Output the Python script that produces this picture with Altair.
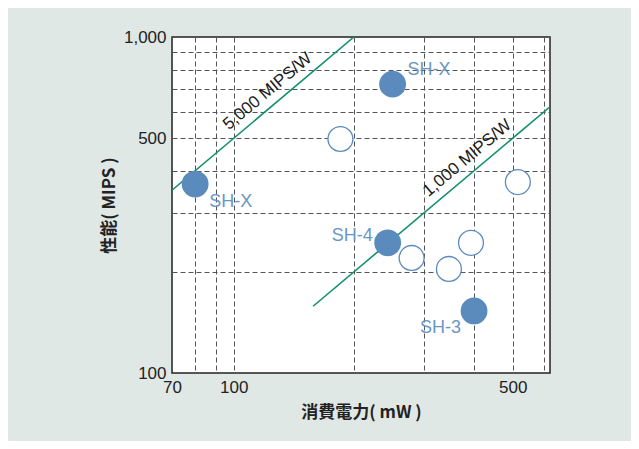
import altair as alt
import pandas as pd

# ---- data ----
filled_names = ["SH-X", "SH-X", "SH-4", "SH-3"]
filled_power = [80, 250, 243, 400]      # mW
filled_perf = [365, 724, 244, 153]      # MIPS

open_power = [185, 515, 279, 346, 393]
open_perf = [497, 370, 220, 204, 244]

rate_labels = ["5,000 MIPS/W", "1,000 MIPS/W"]
rates = [5000, 1000]                    # MIPS/W
rate_x_from = [70, 158]
rate_x_to = [200, 620]
rate_label_x = [128, 405]

x_grid = [70, 80, 90, 100, 200, 300, 400, 500, 600]
x_labels = [70, 100, 500]
y_grid = [100, 200, 300, 400, 500, 600, 700, 800, 900, 1000]
y_labels = [100, 500, 1000]

BLUE = "#5b8bbd"
GREEN = "#14906f"
FONT = "Liberation Sans"
CJK = "Noto Sans CJK JP"

filled = pd.DataFrame({"power": filled_power, "perf": filled_perf, "name": filled_names})
opened = pd.DataFrame({"power": open_power, "perf": open_perf})

lines_rows = []
for lab, r, a, b in zip(rate_labels, rates, rate_x_from, rate_x_to):
    for xv in (a, b):
        lines_rows.append({"label": lab, "power": xv, "perf": r / 1000 * xv})
lines = pd.DataFrame(lines_rows)
line_labels = pd.DataFrame({
    "label": rate_labels,
    "power": rate_label_x,
    "perf": [r / 1000 * xv for r, xv in zip(rates, rate_label_x)],
})

xscale = alt.Scale(type="log", domain=[70, 620], nice=False)
yscale = alt.Scale(type="log", domain=[100, 1000], nice=False)

x_lab_expr = "indexof(" + str(x_labels) + ", datum.value) >= 0 ? format(datum.value, 'd') : ''"
y_lab_expr = "indexof(" + str(y_labels) + ", datum.value) >= 0 ? format(datum.value, ',') : ''"

X = alt.X("power:Q", scale=xscale, axis=alt.Axis(
    values=x_grid, labelExpr=x_lab_expr, title="消費電力( mW )",
    grid=True, ticks=False, domain=False, labelPadding=6, titlePadding=9,
    labelFlush=False, labelOverlap=False))
Y = alt.Y("perf:Q", scale=yscale, axis=alt.Axis(
    values=y_grid, labelExpr=y_lab_expr, title="性能( MIPS )",
    grid=True, ticks=False, domain=False, labelPadding=6, titlePadding=5,
    labelFlush=False, labelOverlap=False))

rate_lines = alt.Chart(lines).mark_line(color=GREEN, strokeWidth=1.6, clip=True).encode(
    x=X, y=Y, detail="label:N")

rate_text = alt.Chart(line_labels).mark_text(
    angle=320, align="center", baseline="bottom", dy=-5,
    font=FONT, fontSize=17, color="#1a1a1a").encode(x=X, y=Y, text="label:N")

open_pts = alt.Chart(opened).mark_point(
    shape="circle", size=620, filled=True, fill="white", stroke=BLUE,
    strokeWidth=1.3, opacity=1).encode(x=X, y=Y)

filled_pts = alt.Chart(filled).mark_point(
    shape="circle", size=720, filled=True, color=BLUE, opacity=1).encode(x=X, y=Y)

label_specs = [
    (1, "left", 15, -14),
    (0, "left", 14, 18),
    (2, "right", -15, -7),
    (3, "right", -13, 17),
]
label_layers = []
for idx, al, dx, dy in label_specs:
    df = filled.iloc[[idx]]
    label_layers.append(
        alt.Chart(df).mark_text(align=al, baseline="middle", dx=dx, dy=dy,
                                font=FONT, fontSize=18, color="#6a96c6")
        .encode(x=X, y=Y, text="name:N"))

chart = alt.layer(rate_lines, rate_text, open_pts, filled_pts, *label_layers).properties(
    width=378, height=336,
    padding={"left": 164, "top": 29, "right": 81, "bottom": 68},
    autosize=alt.AutoSizeParams(type="none"),
    background="#e0e8e6",
).configure_view(
    stroke="#222", strokeWidth=1.5, fill="white"
).configure_axis(
    labelFont=FONT, labelFontSize=17, labelColor="#222",
    titleFont=CJK, titleFontSize=17, titleFontWeight="bold", titleColor="#222",
    gridColor="#555", gridDash=[5, 3], gridWidth=1, gridOpacity=1,
)

chart.save("out.html", embed_options={"renderer": "svg", "actions": False})
